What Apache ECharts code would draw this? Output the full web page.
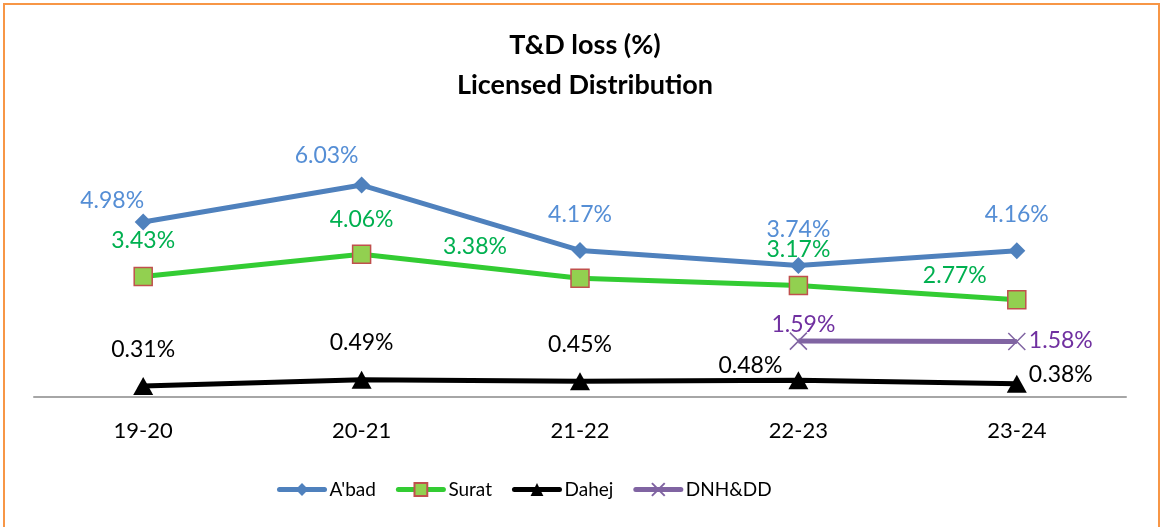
<!DOCTYPE html>
<html>
<head>
<meta charset="utf-8">
<script src="https://cdn.jsdelivr.net/npm/echarts@6/dist/echarts.min.js"></script>
<style>
  html, body { margin: 0; padding: 0; background: #fff; }
  #chart { width: 1170px; height: 527px; }
</style>
</head>
<body>
<div id="chart"></div>
<script>
// Financial years on the category axis
const years = ['19-20', '20-21', '21-22', '22-23', '23-24'];

// T&D loss (%) per licensee
const abad = [4.98, 6.03, 4.17, 3.74, 4.16];
const surat = [3.43, 4.06, 3.38, 3.17, 2.77];
const dahej = [0.31, 0.49, 0.45, 0.48, 0.38];
const dnhdd = [null, null, null, 1.59, 1.58];

const titleLines = ['T&D loss (%)', 'Licensed Distribution'];

// Label placement (pixel offsets from each point's centre)
const labelOffsets = {
  abad:  [[-31, -21], [-35, -30], [0, -36], [0, -36], [0, -36]],
  surat: [[0, -36], [0, -35], [-105, -32], [0, -36], [-62, -24]],
  dahej: [[0, -37], [0, -37], [0, -37], [-48, -15], [44, -9]],
  dnhdd: [null, null, null, [5, -17], [44, -1]]
};

const FONT = 'Lato, "Open Sans", sans-serif';

function withLabels(values, offsets, color) {
  return values.map((v, i) => {
    if (v == null) return null;
    return {
      value: v,
      label: {
        show: true,
        position: 'inside',
        offset: offsets[i],
        color: color,
        fontFamily: FONT,
        fontSize: 23,
        formatter: p => p.value.toFixed(2) + '%'
      }
    };
  });
}

const chart = echarts.init(document.getElementById('chart'), null, { renderer: 'canvas' });

chart.setOption({
  backgroundColor: '#ffffff',
  animation: false,
  title: {
    text: titleLines.join('\n'),
    left: 'center',
    top: 20,
    textStyle: {
      fontFamily: FONT,
      fontWeight: 'bold',
      fontSize: 27,
      lineHeight: 40,
      color: '#000'
    }
  },
  graphic: [{
    type: 'rect',
    shape: { x: 4, y: 4, width: 1155, height: 540 },
    style: { fill: 'none', stroke: '#f79646', lineWidth: 2 },
    silent: true,
    z: 100
  }],
  legend: {
    left: 272,
    top: 475,
    itemWidth: 45,
    itemHeight: 16,
    itemGap: 20,
    lineStyle: { width: 5, cap: 'round' },
    textStyle: { fontFamily: FONT, fontSize: 19, color: '#000' },
    data: ["A'bad", 'Surat', 'Dahej', 'DNH&DD']
  },
  grid: { left: 34, right: 44, top: 151, bottom: 130 },
  xAxis: {
    type: 'category',
    data: years,
    boundaryGap: true,
    axisLine: { lineStyle: { color: '#a6a6a6', width: 2 } },
    axisTick: { show: false },
    axisLabel: { margin: 23, fontFamily: FONT, fontSize: 22, color: '#000' },
    splitLine: { show: false }
  },
  yAxis: {
    type: 'value',
    min: 0,
    max: 7,
    show: false,
    splitLine: { show: false }
  },
  series: [
    {
      name: "A'bad",
      type: 'line',
      data: withLabels(abad, labelOffsets.abad, '#558ed5'),
      symbol: 'diamond',
      symbolSize: [17, 17],
      lineStyle: { color: '#4f81bd', width: 5 },
      itemStyle: { color: '#4f81bd' },
      z: 4
    },
    {
      name: 'Surat',
      type: 'line',
      data: withLabels(surat, labelOffsets.surat, '#00b050'),
      symbol: 'rect',
      symbolSize: 18,
      lineStyle: { color: '#33cc33', width: 5 },
      itemStyle: { color: '#92d050', borderColor: '#c0504d', borderWidth: 1.5 },
      z: 3
    },
    {
      name: 'Dahej',
      type: 'line',
      data: withLabels(dahej, labelOffsets.dahej, '#000000'),
      symbol: 'triangle',
      symbolSize: [20, 18],
      lineStyle: { color: '#000000', width: 5 },
      itemStyle: { color: '#000000' },
      z: 2
    },
    {
      name: 'DNH&DD',
      type: 'line',
      data: withLabels(dnhdd, labelOffsets.dnhdd, '#7030a0'),
      symbol: 'path://M0,0L10,10M10,0L0,10',
      symbolSize: 17,
      connectNulls: false,
      lineStyle: { color: '#8064a2', width: 5 },
      itemStyle: { color: '#8064a2', borderColor: '#8064a2', borderWidth: 1.5 },
      z: 2
    }
  ]
});
</script>
</body>
</html>
